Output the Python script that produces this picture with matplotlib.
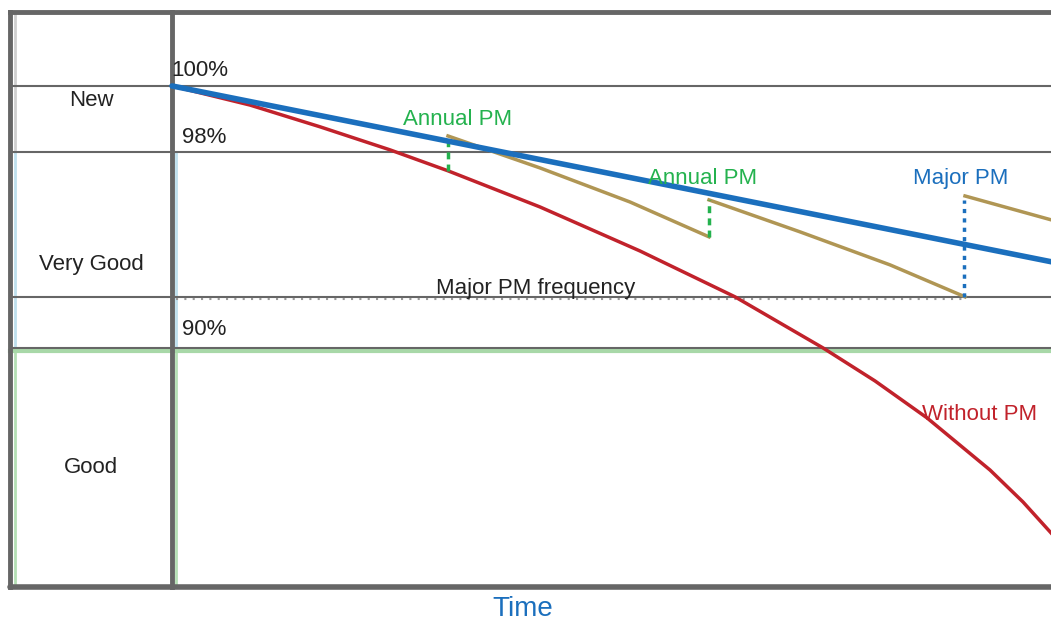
import matplotlib.pyplot as plt

plt.rcParams['font.family'] = ['Liberation Sans', 'DejaVu Sans']

# time axis (arbitrary units, 0 = start of service) and condition (%)
t_blue = [0.0, 9.0]
c_blue = [100.0, 93.13]

t_red = [0.0, 0.78, 1.48, 2.18, 2.76, 3.68, 4.68, 5.63, 6.51, 7.03, 7.55,
         8.18, 8.51, 8.79]
c_red = [100.0, 99.27, 98.44, 97.56, 96.76, 95.38, 93.70, 91.95, 90.00,
         88.74, 87.33, 85.34, 84.12, 82.94]

# sawtooth of maintained asset (one list per interval between PMs)
t_pm1 = [2.76, 3.68, 4.58, 5.37]
c_pm1 = [98.09, 96.87, 95.57, 94.24]
t_pm2 = [5.37, 6.28, 7.18, 7.93]
c_pm2 = [95.65, 94.43, 93.17, 91.95]
t_pm3 = [7.93, 8.79]
c_pm3 = [95.80, 94.89]

# PM events: time, condition before, condition after
annual_pm_t = [2.76, 5.37]
annual_pm_lo = [96.76, 94.24]
annual_pm_hi = [98.02, 95.65]
major_pm_t = 7.92
major_pm_lo = 91.95
major_pm_hi = 95.65

# condition band boundaries
band_lines = [100.0, 97.48, 91.95, 90.0]
band_names = ['New', 'Very Good', 'Good']
band_label_c = [99.46, 93.20, 85.45]
pct_labels = ['100%', '98%', '90%']
pct_label_c = [100.57, 98.02, 90.69]

BLUE = '#1b6fbd'
RED = '#c1222b'
TAN = '#b09654'
GREEN = '#24b24e'
GRAY = '#666666'
TXT = '#222222'

fig = plt.figure(figsize=(10.51, 6.23), dpi=100)
ax = fig.add_axes([0, 0, 1, 1])
ax.set_xlim(-1.72, 8.79)
ax.set_ylim(79.50, 103.28)
ax.axis('off')

x_left, x_right = -1.62, 8.79
c_top, c_bot = 102.82, 80.88

# subtle coloured tints on the panel edges
ax.plot([-1.57, -1.57], [c_top, 97.48], color='#cfcfcf', lw=2, zorder=1)
ax.plot([-1.57, -1.57], [97.48, 90.0], color='#bfe0ee', lw=2, zorder=1)
ax.plot([-1.57, -1.57], [90.0, c_bot], color='#b5e0b5', lw=2, zorder=1)
ax.plot([0.04, 0.04], [97.48, 90.0], color='#bfe0ee', lw=2, zorder=1)
ax.plot([0.04, 0.04], [90.0, c_bot], color='#b5e0b5', lw=2, zorder=1)
ax.plot([x_left, x_right], [89.89, 89.89], color='#a8d8a8', lw=3, zorder=1)

# band lines
for c in band_lines:
    ax.plot([x_left, x_right], [c, c], color=GRAY, lw=1.5, zorder=2)
ax.plot([0.04, major_pm_t], [91.87, 91.87], color='#999999', lw=1.5,
        ls=(0, (1, 3)), zorder=2)

# frame
ax.plot([x_left, x_right], [c_top, c_top], color=GRAY, lw=3.5, zorder=3)
ax.plot([x_left, x_right], [c_bot, c_bot], color=GRAY, lw=4, zorder=3,
        solid_capstyle='round')
ax.plot([x_left, x_left], [c_bot, c_top], color=GRAY, lw=3.5, zorder=3)
ax.plot([0, 0], [c_bot, c_top], color=GRAY, lw=3.5, zorder=3)

# curves
ax.plot(t_red, c_red, color=RED, lw=2.5, zorder=5, solid_joinstyle='round')
for tt, cc in [(t_pm1, c_pm1), (t_pm2, c_pm2), (t_pm3, c_pm3)]:
    ax.plot(tt, cc, color=TAN, lw=2.5, zorder=5, solid_joinstyle='round')
ax.plot(t_blue, c_blue, color=BLUE, lw=4, zorder=6, solid_capstyle='round')

for t, lo, hi in zip(annual_pm_t, annual_pm_lo, annual_pm_hi):
    ax.plot([t, t], [lo, hi], color=GREEN, lw=2.5, ls=(0, (2, 1.5)), zorder=5)
ax.plot([major_pm_t, major_pm_t], [major_pm_lo, major_pm_hi], color=BLUE,
        lw=2.5, ls=(0, (1.2, 1.5)), zorder=5)

# text
for name, c in zip(band_names, band_label_c):
    ax.text(-0.81, c, name, ha='center', va='center', fontsize=16, color=TXT)
ax.text(0.28, pct_label_c[0], pct_labels[0], ha='center', va='center',
        fontsize=16, color=TXT)
for lab, c in zip(pct_labels[1:], pct_label_c[1:]):
    ax.text(0.32, c, lab, ha='center', va='center', fontsize=16, color=TXT)

ax.text(2.86, 98.70, 'Annual PM', ha='center', va='center', fontsize=16,
        color=GREEN, zorder=7)
ax.text(5.31, 96.45, 'Annual PM', ha='center', va='center', fontsize=16,
        color=GREEN, zorder=7)
ax.text(7.89, 96.45, 'Major PM', ha='center', va='center', fontsize=16,
        color=BLUE, zorder=7)
ax.text(8.08, 87.45, 'Without PM', ha='center', va='center', fontsize=16,
        color=RED, zorder=7)
ax.text(3.64, 92.25, 'Major PM frequency', ha='center', va='center',
        fontsize=16, color=TXT, zorder=7)
ax.text(3.51, 80.03, 'Time', ha='center', va='center', fontsize=20,
        color=BLUE)

fig.savefig('out.png', dpi=100)
